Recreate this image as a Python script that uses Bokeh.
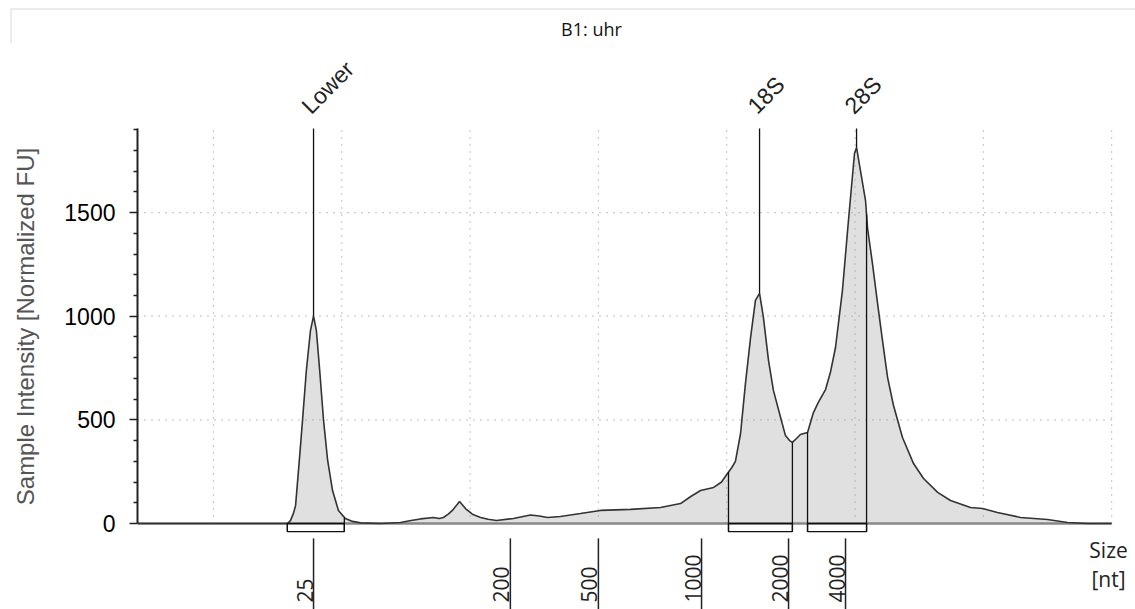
import numpy as np
from bokeh.plotting import figure
from bokeh.layouts import column
from bokeh.models import Range1d, FixedTicker, LinearAxis
from bokeh.core.properties import value
from bokeh.embed import file_html
from bokeh.resources import INLINE

# ---- electropherogram trace: migration time [s] vs. fluorescence [normalized FU]
time_s = [17.04, 22.88, 23.00, 23.12, 23.20, 23.33, 23.47, 23.62, 23.78, 23.90,
          24.01, 24.14, 24.29, 24.45, 24.64, 24.87, 25.14, 25.42, 25.73, 26.51,
          27.29, 27.70, 28.07, 28.57, 28.80, 28.96, 29.15, 29.31, 29.59, 29.82,
          30.09, 30.41, 30.70, 31.03, 31.69, 32.35, 32.70, 33.02, 33.52, 34.30,
          35.08, 36.25, 37.42, 38.20, 38.60, 38.98, 39.49, 39.80, 40.03, 40.20,
          40.34, 40.54, 40.73, 40.93, 41.12, 41.28, 41.43, 41.63, 41.82, 42.10,
          42.29, 42.45, 42.56, 42.72, 42.87, 43.15, 43.38, 43.57, 43.85, 44.04,
          44.24, 44.51, 44.71, 44.86, 44.98, 45.06, 45.21, 45.41, 45.49, 45.68,
          45.88, 46.07, 46.27, 46.50, 46.85, 47.28, 47.67, 48.22, 48.72, 49.50,
          49.97, 50.55, 51.45, 52.50, 53.28, 54.06, 55.00]
intensity = [0, 0, 14, 50, 87, 280, 497, 738, 931, 1000,
             931, 738, 497, 304, 159, 63, 24, 10, 3, 0,
             5, 14, 22, 29, 24, 29, 45, 63, 106, 72,
             45, 29, 20, 14, 24, 41, 36, 29, 34, 48,
             63, 68, 77, 96, 130, 159, 174, 200, 241, 270,
             300, 434, 675, 897, 1076, 1110, 994, 786, 642, 511,
             424, 400, 391, 410, 429, 439, 535, 584, 646, 728,
             849, 1124, 1413, 1621, 1785, 1814, 1703, 1558, 1423, 1254,
             1061, 883, 704, 569, 415, 289, 217, 150, 111, 77,
             72, 53, 29, 19, 5, 0, 0]

# ---- called peaks and their integration windows
peak_names = ["Lower", "18S", "28S"]
peak_time = [23.90, 41.28, 45.06]
window_start = [22.88, 40.07, 43.15]
window_end = [25.10, 42.56, 45.45]

# ---- ladder sizes [nt] and where they fall on the time axis
ladder_nt = ["25", "200", "500", "1000", "2000", "4000"]
ladder_time = [23.90, 31.57, 35.00, 39.02, 42.41, 44.63]

# ---- axis ticks and grid
grid_time = [20, 25, 30, 35, 40, 45, 50, 55]
y_major = [0, 500, 1000, 1500]
y_minor = [v for v in range(100, 2000, 100) if v not in y_major]

T0, T1 = 17.04, 55.0          # extent of the recorded trace
FU_TOP = 1905                 # top of the intensity axis

t = np.array(time_s)
fu = np.array(intensity)
peak_fu = np.interp(peak_time, t, fu)
ws_fu = np.interp(window_start, t, fu)
we_fu = np.interp(window_end, t, fu)

# ---- sample header strip
header = figure(width=1135, height=43,
                x_range=Range1d(0, 1135), y_range=Range1d(43, 0),
                x_axis_location=None, y_axis_location=None,
                output_backend="svg", toolbar_location=None,
                min_border=0, outline_line_color=None, frame_align=False,
                background_fill_color="white", border_fill_color="white")
header.grid.visible = False
header.segment(x0=[10.5, 10.5], y0=[8.5, 8.5], x1=[1135, 10.5], y1=[8.5, 43],
               line_color="#d6d6d6", line_width=1)
header.text(x=[591], y=[28], text=["B1: uhr"], text_align="center",
            text_baseline="middle", text_font=value("Open Sans"),
            text_font_size="18px", text_color="#111111")

# ---- electropherogram
p = figure(width=1135, height=566,
           x_range=Range1d(T0, 55.93), y_range=Range1d(-415, 2315.5),
           x_axis_location=None, y_axis_location=None,
           output_backend="svg", toolbar_location=None,
           min_border_left=137, min_border_right=0,
           min_border_top=0, min_border_bottom=0, frame_align=False,
           outline_line_color=None, background_fill_color="white",
           border_fill_color="white")
p.grid.visible = False

yax = LinearAxis(ticker=FixedTicker(ticks=y_major, minor_ticks=y_minor),
                 bounds=(0, FU_TOP),
                 axis_label="Sample Intensity [Normalized FU]",
                 axis_line_width=2, axis_line_color="#222222",
                 major_tick_in=0, major_tick_out=8, minor_tick_in=0, minor_tick_out=4,
                 major_tick_line_color="#222222", minor_tick_line_color="#222222",
                 major_tick_line_width=1.5, minor_tick_line_width=1.5,
                 major_label_text_font="Liberation Sans",
                 major_label_text_font_size="23px",
                 major_label_text_color="#000000",
                 major_label_standoff=14,
                 axis_label_text_font="Liberation Sans",
                 axis_label_text_font_size="24px",
                 axis_label_text_font_style="normal",
                 axis_label_text_color="#555555",
                 axis_label_standoff=22)
p.add_layout(yax, "left")

# filled trace
p.varea(x=time_s, y1=0, y2=intensity, fill_color="#e0e0e0")

# dotted grid over the fill
p.segment(x0=grid_time, y0=0, x1=grid_time, y1=FU_TOP,
          line_color="#9a9a9a", line_width=1.2, line_dash="1 6")
p.segment(x0=T0, y0=y_major[1:], x1=T1, y1=y_major[1:],
          line_color="#9a9a9a", line_width=1.2, line_dash="1 6")

# baseline and trace outline
p.segment(x0=T0, y0=0, x1=T1, y1=0, line_color="#888888", line_width=2.5)
p.line(time_s, intensity, line_color="#333333", line_width=1.6)

# integration windows under the peaks
BOX_DEPTH = -39
p.quad(left=window_start, right=window_end, top=0, bottom=BOX_DEPTH,
       fill_color=None, line_color="#111111", line_width=1.3)
p.segment(x0=window_start, y0=BOX_DEPTH, x1=window_start, y1=ws_fu,
          line_color="#111111", line_width=1.3)
p.segment(x0=window_end, y0=BOX_DEPTH, x1=window_end, y1=we_fu,
          line_color="#111111", line_width=1.3)

# peak markers and names
p.segment(x0=peak_time, y0=peak_fu, x1=peak_time, y1=FU_TOP,
          line_color="#111111", line_width=1.3)
p.text(x=peak_time, y=1997, text=peak_names, angle=np.pi / 4,
       text_align="left", text_baseline="alphabetic", x_offset=-8,
       text_font=value("Liberation Sans"), text_font_size="23px",
       text_color="#222222")

# ladder scale below the trace
p.segment(x0=ladder_time, y0=-72, x1=ladder_time, y1=-415,
          line_color="#222222", line_width=1.5)
p.text(x=ladder_time, y=-381, text=ladder_nt, angle=np.pi / 2,
       text_align="left", text_baseline="alphabetic", x_offset=-9,
       text_font=value("Open Sans"), text_font_size="21px",
       text_color="#222222")
p.text(x=[54.88, 54.88], y=[-130, -270], text=["Size", "[nt]"],
       text_align="center", text_baseline="alphabetic",
       text_font=value("Open Sans"), text_font_size="21px",
       text_color="#222222")

open("out.html", "w").write(file_html(column(header, p, spacing=0), INLINE))
